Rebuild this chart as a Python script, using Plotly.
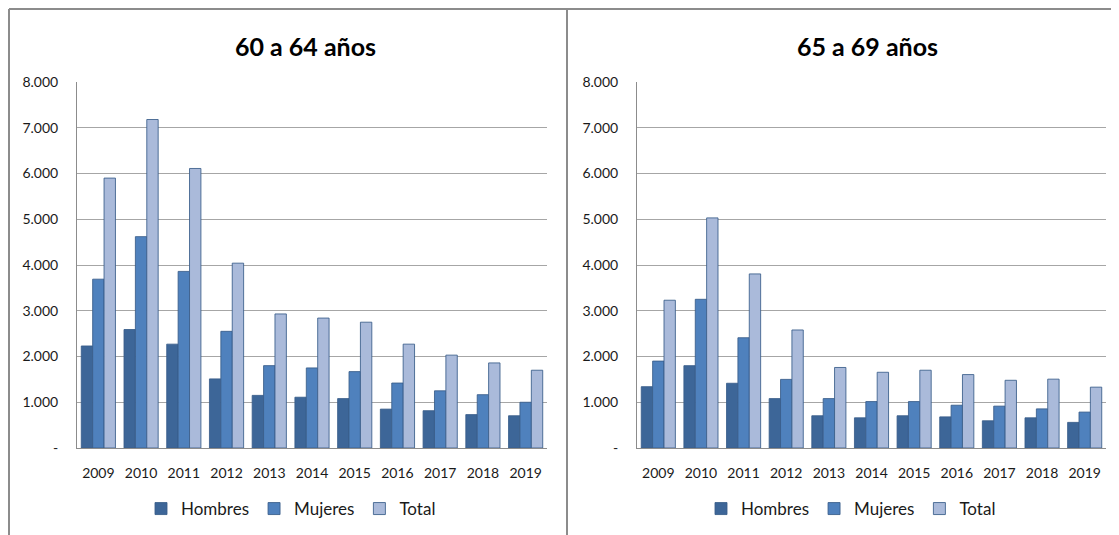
import plotly.graph_objects as go

years = ['2009', '2010', '2011', '2012', '2013', '2014', '2015', '2016', '2017', '2018', '2019']

# 60 a 64 años
hombres_60 = [2230, 2590, 2270, 1510, 1150, 1110, 1080, 850, 815, 730, 705]
mujeres_60 = [3690, 4620, 3860, 2550, 1800, 1750, 1670, 1420, 1250, 1165, 1000]
total_60 = [5900, 7180, 6110, 4040, 2930, 2840, 2750, 2270, 2030, 1860, 1700]

# 65 a 69 años
hombres_65 = [1340, 1800, 1415, 1080, 705, 660, 705, 680, 595, 660, 560]
mujeres_65 = [1900, 3250, 2410, 1500, 1080, 1015, 1015, 935, 915, 855, 785]
total_65 = [3230, 5030, 3805, 2580, 1760, 1655, 1700, 1605, 1480, 1505, 1330]

tick_vals = [0, 1000, 2000, 3000, 4000, 5000, 6000, 7000, 8000]
tick_text = ['-', '1.000', '2.000', '3.000', '4.000', '5.000', '6.000', '7.000', '8.000']

# page has an 8px body margin, so the figure is shrunk and positions shifted
OX, OY = 8, 8
W, H = 1119 - OX, 535 - OY
FONT = 'Lato'
colors = {'Hombres': '#3D6698', 'Mujeres': '#4F81BD', 'Total': '#AABADA'}
outline = 'rgba(56,93,138,0.85)'

def px_x(p):
    return (p - OX) / W

def px_y(p):
    return 1 - (p - OY) / H

fig = go.Figure()

series = [
    ('x', 'y', 'legend', [('Hombres', hombres_60), ('Mujeres', mujeres_60), ('Total', total_60)]),
    ('x2', 'y2', 'legend2', [('Hombres', hombres_65), ('Mujeres', mujeres_65), ('Total', total_65)]),
]
for xa, ya, leg, items in series:
    for name, vals in items:
        fig.add_trace(go.Bar(
            x=years, y=vals, name=name,
            xaxis=xa, yaxis=ya, legend=leg,
            marker=dict(color=colors[name], line=dict(color=outline, width=1)),
            hoverinfo='x+y+name',
        ))

yaxis_style = dict(
    range=[0, 8000], tickvals=tick_vals, ticktext=tick_text,
    showgrid=True, gridcolor='#A6A6A6', gridwidth=1,
    showline=True, linecolor='#8C8C8C', linewidth=1,
    ticks='', ticklabelstandoff=15, zeroline=False, automargin=False,
    tickfont=dict(family=FONT, size=14, color='#1a1a1a'),
    domain=[px_y(448), px_y(82)],
)
xaxis_style = dict(
    showline=True, linecolor='#8C8C8C', linewidth=1,
    ticks='', ticklabelstandoff=12, showgrid=False, automargin=False,
    tickfont=dict(family=FONT, size=14, color='#1a1a1a'),
)

fig.update_layout(
    width=W, height=H,
    margin=dict(l=0, r=0, t=0, b=0, autoexpand=False),
    paper_bgcolor='white', plot_bgcolor='white',
    barmode='group', bargap=0.2, bargroupgap=0,
    xaxis=dict(domain=[px_x(77), px_x(547)], anchor='y', **xaxis_style),
    yaxis=dict(anchor='x', **yaxis_style),
    xaxis2=dict(domain=[px_x(637), px_x(1106)], anchor='y2', **xaxis_style),
    yaxis2=dict(anchor='x2', **yaxis_style),
    legend=dict(orientation='h', x=px_x(291), xanchor='center', y=px_y(509), yanchor='middle',
                font=dict(family=FONT, size=17, color='#1a1a1a'), itemwidth=30,
                traceorder='normal'),
    legend2=dict(orientation='h', x=px_x(851), xanchor='center', y=px_y(509), yanchor='middle',
                 font=dict(family=FONT, size=17, color='#1a1a1a'), itemwidth=30,
                 traceorder='normal'),
    annotations=[
        dict(text='<b>60 a 64 años</b>', x=px_x(305), y=px_y(46), xref='paper', yref='paper',
             xanchor='center', yanchor='middle', showarrow=False,
             font=dict(family=FONT, size=25, color='black')),
        dict(text='<b>65 a 69 años</b>', x=px_x(867), y=px_y(46), xref='paper', yref='paper',
             xanchor='center', yanchor='middle', showarrow=False,
             font=dict(family=FONT, size=25, color='black')),
    ],
    shapes=[
        dict(type='line', xref='paper', yref='paper', x0=px_x(9), x1=1, y0=px_y(9), y1=px_y(9),
             line=dict(color='#8C8C8C', width=2)),
        dict(type='line', xref='paper', yref='paper', x0=px_x(9), x1=px_x(9), y0=0, y1=px_y(9),
             line=dict(color='#8C8C8C', width=2)),
        dict(type='line', xref='paper', yref='paper', x0=px_x(567), x1=px_x(567), y0=0, y1=px_y(9),
             line=dict(color='#8C8C8C', width=2)),
    ],
)

fig.write_html('out.html')
